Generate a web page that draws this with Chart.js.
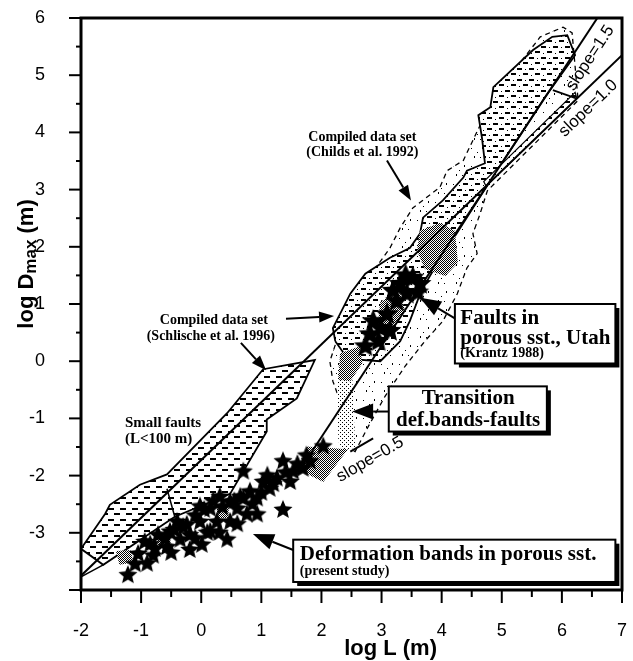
<!DOCTYPE html>
<html>
<head>
<meta charset="utf-8">
<title>log Dmax vs log L</title>
<script src="https://cdn.jsdelivr.net/npm/chart.js@4/dist/chart.umd.min.js"></script>
<style>
  html, body { margin: 0; padding: 0; background: #fff; }
  canvas { display: block; }
</style>
</head>
<body>
<canvas id="c" width="633" height="661"></canvas>
<script>
// ---------- axis ticks ----------
const xTicks = [-2, -1, 0, 1, 2, 3, 4, 5, 6, 7];
const yTicks = [-3, -2, -1, 0, 1, 2, 3, 4, 5, 6];

// ---------- envelopes: log L (x) and log Dmax (y) vertices ----------
// Small faults, compiled data set (Schlische et al. 1996)
const schlischeL = [-2.00, -1.60, -1.52, -1.02, -0.57, 0.43, 1.03, 1.89, 1.59, 1.09, 1.09, 0.48, -0.44, -1.63, -2.00];
const schlischeD = [-3.28, -2.67, -2.51, -2.16, -1.98, -0.91, -0.14, 0.02, -0.65, -1.02, -1.23, -2.32, -2.72, -3.56, -3.28];

// Compiled data set (Childs et al. 1992), solid outline
const childsL = [2.23, 2.19, 2.48, 2.73, 3.14, 3.47, 3.64, 3.69, 4.02, 4.36, 4.42, 4.72, 4.67, 4.61, 4.81, 4.86, 5.52, 5.84, 6.09, 6.22, 5.71, 4.74, 4.26, 4.00, 3.66, 3.47, 3.31, 2.98, 2.44, 2.23];
const childsD = [0.35, 0.58, 1.18, 1.53, 1.81, 1.98, 2.23, 2.51, 2.81, 3.21, 3.33, 3.46, 3.91, 4.30, 4.44, 4.79, 5.44, 5.67, 5.70, 5.35, 4.60, 3.04, 2.25, 1.84, 1.23, 0.70, 0.35, 0.00, 0.04, 0.35];

// narrow strip of the same data set along the slope=1.0 line
const childsStripL = [4.74, 6.25, 6.22, 4.70, 4.74];
const childsStripD = [3.06, 4.59, 4.70, 3.14, 3.06];

// outer dashed limit of the Childs et al. data
const childsHullL = [2.36, 2.31, 2.19, 2.14, 2.39, 2.64, 2.89, 3.14, 3.31, 3.52, 3.97, 4.09, 4.36, 4.76, 5.19, 5.30, 5.64, 6.02, 6.17, 6.27, 4.76, 4.64, 4.52, 4.59, 4.42, 4.26, 4.02, 3.72, 3.39, 3.06, 2.78, 2.56, 2.36];
const childsHullD = [-1.49, -0.70, -0.35, 0.00, 0.79, 1.23, 1.61, 1.98, 2.33, 2.68, 3.04, 3.33, 3.51, 4.39, 4.91, 5.21, 5.67, 5.84, 5.74, 4.56, 2.98, 2.58, 2.23, 1.88, 1.63, 1.18, 0.70, 0.35, -0.09, -0.61, -1.14, -1.58, -1.49];

// stippled transition zones (def. bands -> faults)
const zoneA_L = [3.64, 3.97, 4.22, 4.27, 4.06, 3.72, 3.59, 3.64];
const zoneA_D = [2.28, 2.42, 2.28, 1.72, 1.49, 1.61, 1.93, 2.28];
const zoneB_L = [2.98, 3.31, 3.39, 3.14, 2.94, 2.98];
const zoneB_D = [1.05, 1.19, 0.88, 0.53, 0.67, 1.05];
const zoneC_L = [2.31, 2.64, 2.68, 2.48, 2.28, 2.31];
const zoneC_D = [0.14, 0.26, -0.04, -0.35, -0.32, 0.14];
const zoneD_L = [1.76, 2.44, 2.03, 1.68, 1.76];
const zoneD_D = [-1.49, -1.54, -2.11, -1.93, -1.49];
const zoneE_L = [-1.42, -1.18, -1.12, -1.36, -1.42];
const zoneE_D = [-3.32, -3.30, -3.52, -3.56, -3.32];
const zoneF_L = [-0.74, -0.52, -0.50, -0.72, -0.74];
const zoneF_D = [-3.10, -3.08, -3.26, -3.28, -3.10];
const zoneG_L = [0.26, 0.46, 0.45, 0.25, 0.26];
const zoneG_D = [-2.58, -2.56, -2.74, -2.76, -2.58];
const zoneH_L = [0.98, 1.22, 1.24, 1.00, 0.98];
const zoneH_D = [-2.02, -2.00, -2.16, -2.18, -2.02];
const bridgeL = [2.26, 2.51, 2.56, 2.39, 2.28, 2.26];
const bridgeD = [-0.09, -0.18, -1.49, -1.61, -1.40, -0.09];

// reference lines
const slope10L = [-2.00, 7.00];
const slope10D = [-3.75, 5.35];
const slope15L = [1.59, 6.59];
const slope15D = [-1.98, 6.00];
const slope05L = [2.48, 2.86];
const slope05D = [-1.58, -1.35];
const capL = [5.85, 6.25];
const capD = [4.74, 4.59];
const edgeL = [-2.00, -1.63];
const edgeD = [-3.77, -3.56];
const notchL = [-0.57, -0.44];
const notchD = [-2.23, -2.72];

// deformation bands in porous sandstone (present study)
const bandsL = [-1.22, -1.05, -0.90, -0.77, -0.72, -0.52, -0.35, -0.19, 0.01, 0.43, -0.24, -0.02, 0.15, 0.26, 0.48, 0.60, 0.76, 0.70, 0.93, 1.14,
                1.36, 1.36, 1.26, 1.53, 1.69, 2.03, 0.48, 0.81, 1.03, 0.15, -0.19, -0.40, 0.93, -0.57, -0.94, 0.31, 0.65, -0.02, 1.48, 1.81,
                -0.85, -0.60, -0.45, -0.30, -0.10, 0.05, 0.20, 0.35, 0.55, 0.70, 0.85, 1.00, 1.10, 1.20, 1.40, 1.60, 1.75, 0.10, 0.30, 0.60,
                -0.10, -0.50, -1.10, -0.80];
const bandsD = [-3.74, -3.37, -3.54, -3.28, -3.04, -2.98, -3.12, -3.30, -3.21, -3.12, -2.86, -2.81, -2.58, -2.81, -2.81, -2.58, -2.68, -1.93, -2.40, -2.23,
                -2.60, -1.75, -2.05, -1.93, -1.88, -1.49, -2.46, -2.28, -2.11, -2.98, -3.04, -2.81, -2.68, -3.25, -3.16, -2.37, -2.37, -2.54, -2.11, -1.75,
                -3.20, -3.10, -2.95, -2.90, -2.70, -2.60, -2.45, -2.55, -2.45, -2.40, -2.50, -2.30, -2.00, -2.15, -1.95, -1.80, -1.65, -3.00, -3.00, -2.85,
                -3.10, -3.35, -3.55, -3.40];

// faults in porous sandstone, Utah (Krantz 1988)
const krantzL = [2.81, 2.73, 2.98, 3.14, 3.31, 3.52, 3.42, 3.19, 3.64, 2.86, 3.09, 3.40, 3.60, 3.25, 2.95];
const krantzD = [0.47, 0.26, 0.58, 0.53, 1.35, 1.46, 1.18, 1.23, 1.35, 0.70, 0.82, 1.50, 1.20, 1.05, 0.35];

// ---------- fonts ----------
const SANS = '"Liberation Sans", Arial, Helvetica, sans-serif';
const SERIF = '"Liberation Serif", "Times New Roman", Times, serif';

// ---------- fill patterns ----------
const baseCtx = document.getElementById('c').getContext('2d');
function pattern(w, h, paint) {
  const c = document.createElement('canvas');
  c.width = w; c.height = h;
  const g = c.getContext('2d');
  g.fillStyle = '#fff';
  g.fillRect(0, 0, w, h);
  g.fillStyle = '#000';
  paint(g);
  return baseCtx.createPattern(c, 'repeat');
}
const dashHatch = pattern(12, 11, g => { g.fillRect(0, 2, 6, 2); g.fillRect(6, 7, 6, 2); });
const childsHatch = pattern(12, 11, g => {
  g.fillRect(1, 2, 5, 2); g.fillRect(7, 7, 5, 2);
  g.fillRect(9, 3, 1, 1); g.fillRect(3, 9, 1, 1);
});
const sparseDots = pattern(18, 18, g => {
  g.fillRect(3, 4, 1, 1); g.fillRect(12, 13, 1, 1); g.fillRect(14, 3, 1, 2);
  g.fillRect(6, 12, 1, 2); g.fillRect(9, 8, 1, 1);
});
const stipple = pattern(2, 2, g => { g.fillRect(0, 0, 1, 1); g.fillRect(1, 1, 1, 1); });
const lightStipple = pattern(4, 4, g => { g.fillRect(0, 0, 1, 1); g.fillRect(2, 2, 1, 1); });

// ---------- star marker ----------
function starMarker(r) {
  const s = Math.ceil(2 * r + 2);
  const c = document.createElement('canvas');
  c.width = s; c.height = s;
  const g = c.getContext('2d');
  g.translate(s / 2, s / 2);
  g.beginPath();
  for (let i = 0; i < 10; i++) {
    const rr = i % 2 ? r * 0.45 : r;
    const a = -Math.PI / 2 + i * Math.PI / 5;
    g.lineTo(rr * Math.cos(a), rr * Math.sin(a));
  }
  g.closePath();
  g.fillStyle = '#000';
  g.fill();
  return c;
}

// ---------- dataset helpers ----------
const pts = (xs, ys) => xs.map((x, i) => ({ x, y: ys[i] }));
const area = (xs, ys, bg, border, order, extra) => Object.assign({
  data: pts(xs, ys), showLine: true, fill: 'shape', backgroundColor: bg,
  borderColor: border, borderWidth: 1.8, pointRadius: 0, tension: 0, order
}, extra || {});
const line = (xs, ys, w) => ({
  data: pts(xs, ys), showLine: true, fill: false, borderColor: '#000',
  borderWidth: w, pointRadius: 0, tension: 0, order: 1
});
const noEdge = 'rgba(0,0,0,0)';

const datasets = [
  { data: pts(krantzL, krantzD), showLine: false, pointStyle: starMarker(12), pointRadius: 10, order: 0 },
  { data: pts(bandsL, bandsD), showLine: false, pointStyle: starMarker(10), pointRadius: 9, order: 0 },
  line(slope10L, slope10D, 2),
  line(slope15L, slope15D, 2),
  line(slope05L, slope05D, 2),
  line(capL, capD, 1.8),
  line(edgeL, edgeD, 1.5),
  line(notchL, notchD, 1.5),
  area(zoneA_L, zoneA_D, stipple, noEdge, 2),
  area(zoneB_L, zoneB_D, stipple, noEdge, 2),
  area(zoneC_L, zoneC_D, stipple, noEdge, 2),
  area(zoneD_L, zoneD_D, stipple, noEdge, 2),
  area(zoneE_L, zoneE_D, stipple, noEdge, 2),
  area(zoneF_L, zoneF_D, stipple, noEdge, 2),
  area(zoneG_L, zoneG_D, stipple, noEdge, 2),
  area(zoneH_L, zoneH_D, stipple, noEdge, 2),
  area(bridgeL, bridgeD, lightStipple, noEdge, 3),
  area(schlischeL, schlischeD, dashHatch, '#000', 4),
  area(childsStripL, childsStripD, childsHatch, '#000', 4, { borderWidth: 1.2 }),
  area(childsL, childsD, childsHatch, '#000', 4),
  area(childsHullL, childsHullD, sparseDots, '#000', 5, { borderWidth: 1.3, borderDash: [5, 4] })
];

// ---------- annotations (anchored in data coordinates) ----------
const slopeNotes = [
  { text: 'slope=1.5', L: 6.47, D: 5.30, alongL: slope15L, alongD: slope15D },
  { text: 'slope=1.0', L: 6.44, D: 4.42, alongL: slope10L, alongD: slope10D },
  { text: 'slope=0.5', L: 2.81, D: -1.72, alongL: slope05L, alongD: slope05D }
];
const notes = [
  { text: 'Compiled data set', L: 0.21, D: 0.72, size: 14, align: 'center' },
  { text: '(Schlische et al. 1996)', L: 0.16, D: 0.44, size: 14, align: 'center' },
  { text: 'Compiled data set', L: 2.68, D: 3.91, size: 14, align: 'center' },
  { text: '(Childs et al. 1992)', L: 2.68, D: 3.65, size: 14, align: 'center' },
  { text: 'Small faults', L: -1.27, D: -1.09, size: 15, align: 'left' },
  { text: '(L<100 m)', L: -1.27, D: -1.37, size: 15, align: 'left' }
];
const boxes = [
  { L1: 4.22, D1: 1.00, L2: 6.89, D2: -0.04, lines: [
    { text: 'Faults in', L: 4.31, D: 0.75, size: 21, align: 'left' },
    { text: 'porous sst., Utah', L: 4.31, D: 0.39, size: 21, align: 'left' },
    { text: '(Krantz 1988)', L: 4.31, D: 0.13, size: 14, align: 'left' }
  ] },
  { L1: 3.12, D1: -0.44, L2: 5.75, D2: -1.23, lines: [
    { text: 'Transition', L: 4.44, D: -0.66, size: 21, align: 'center' },
    { text: 'def.bands-faults', L: 4.44, D: -1.03, size: 21, align: 'center' }
  ] },
  { L1: 1.53, D1: -3.12, L2: 6.89, D2: -3.86, lines: [
    { text: 'Deformation bands in porous sst.', L: 1.64, D: -3.38, size: 21, align: 'left' },
    { text: '(present study)', L: 1.64, D: -3.67, size: 14, align: 'left' }
  ] }
];
const arrows = [
  { from: [1.41, 0.74], to: [2.21, 0.79], len: 15, half: 5.5 },
  { from: [0.66, 0.32], to: [1.08, -0.16], len: 15, half: 5.5 },
  { from: [3.09, 3.51], to: [3.49, 2.81], len: 15, half: 5.5 },
  { from: [4.22, 0.75], to: [3.64, 1.11], len: 21, half: 8 },
  { from: [3.12, -0.88], to: [2.51, -0.88], len: 21, half: 8 },
  { from: [1.53, -3.30], to: [0.86, -3.02], len: 21, half: 8 }
];

function drawArrow(ctx, x1, y1, x2, y2, len, half) {
  const a = Math.atan2(y2 - y1, x2 - x1);
  const bx = x2 - len * Math.cos(a), by = y2 - len * Math.sin(a);
  ctx.beginPath();
  ctx.moveTo(x1, y1);
  ctx.lineTo(bx, by);
  ctx.lineWidth = 2;
  ctx.stroke();
  ctx.beginPath();
  ctx.moveTo(x2, y2);
  ctx.lineTo(bx + half * Math.sin(a), by - half * Math.cos(a));
  ctx.lineTo(bx - half * Math.sin(a), by + half * Math.cos(a));
  ctx.closePath();
  ctx.fill();
}

const decor = {
  id: 'decor',
  afterDatasetsDraw(chart) {
    const { ctx, scales: { x, y } } = chart;
    const px = v => x.getPixelForValue(v);
    const py = v => y.getPixelForValue(v);
    ctx.save();
    ctx.fillStyle = '#000';
    ctx.strokeStyle = '#000';

    // labels along the reference lines
    ctx.font = '17px ' + SANS;
    ctx.textAlign = 'center';
    ctx.textBaseline = 'middle';
    slopeNotes.forEach(n => {
      const ang = Math.atan2(py(n.alongD[1]) - py(n.alongD[0]), px(n.alongL[1]) - px(n.alongL[0]));
      ctx.save();
      ctx.translate(px(n.L), py(n.D));
      ctx.rotate(ang);
      ctx.fillText(n.text, 0, 0);
      ctx.restore();
    });

    // free text
    notes.forEach(n => {
      ctx.font = 'bold ' + n.size + 'px ' + SERIF;
      ctx.textAlign = n.align;
      ctx.fillText(n.text, px(n.L), py(n.D));
    });

    // arrows
    arrows.forEach(a => drawArrow(ctx, px(a.from[0]), py(a.from[1]), px(a.to[0]), py(a.to[1]), a.len, a.half));

    // framed legends with drop shadow
    boxes.forEach(b => {
      const x1 = px(b.L1), y1 = py(b.D1), x2 = px(b.L2), y2 = py(b.D2);
      ctx.fillStyle = '#000';
      ctx.fillRect(x1 + 4, y1 + 4, x2 - x1, y2 - y1);
      ctx.fillStyle = '#fff';
      ctx.fillRect(x1, y1, x2 - x1, y2 - y1);
      ctx.lineWidth = 2;
      ctx.strokeRect(x1, y1, x2 - x1, y2 - y1);
      ctx.fillStyle = '#000';
      b.lines.forEach(t => {
        ctx.font = 'bold ' + t.size + 'px ' + SERIF;
        ctx.textAlign = t.align;
        ctx.fillText(t.text, px(t.L), py(t.D));
      });
    });
    ctx.restore();
  },
  afterDraw(chart) {
    const { ctx, chartArea: a, scales: { x, y } } = chart;
    ctx.save();
    ctx.strokeStyle = '#000';
    ctx.fillStyle = '#000';

    // tick marks, major every unit, minor every half unit
    ctx.lineWidth = 2;
    for (let v = -2; v <= 7.001; v += 0.5) {
      const p = x.getPixelForValue(v);
      const major = Math.abs(v - Math.round(v)) < 1e-6;
      ctx.beginPath();
      ctx.moveTo(p, a.bottom);
      ctx.lineTo(p, a.bottom + (major ? 13 : 7));
      ctx.stroke();
    }
    for (let v = -4; v <= 6.001; v += 0.5) {
      const p = y.getPixelForValue(v);
      const major = Math.abs(v - Math.round(v)) < 1e-6;
      ctx.beginPath();
      ctx.moveTo(a.left, p);
      ctx.lineTo(a.left - (major ? 12 : 5), p);
      ctx.stroke();
    }

    // plot frame
    ctx.lineWidth = 3;
    ctx.strokeRect(a.left, a.top, a.right - a.left, a.bottom - a.top);

    // axis titles
    ctx.textBaseline = 'middle';
    ctx.textAlign = 'center';
    ctx.font = 'bold 22px ' + SANS;
    ctx.fillText('log L (m)', x.getPixelForValue(3.15), 649);

    ctx.translate(27, y.getPixelForValue(1.70));
    ctx.rotate(-Math.PI / 2);
    const big = 'bold 22px ' + SANS, small = 'bold 17px ' + SANS;
    ctx.font = big;
    const w1 = ctx.measureText('log D').width;
    const w3 = ctx.measureText(' (m)').width;
    ctx.font = small;
    const w2 = ctx.measureText('max').width;
    let cx = -(w1 + w2 + w3) / 2;
    ctx.textAlign = 'left';
    ctx.font = big;
    ctx.fillText('log D', cx, 0);
    cx += w1;
    ctx.font = small;
    ctx.fillText('max', cx, 4);
    cx += w2;
    ctx.font = big;
    ctx.fillText(' (m)', cx, 0);
    ctx.restore();
  }
};

new Chart(document.getElementById('c'), {
  type: 'scatter',
  data: { datasets },
  options: {
    responsive: false,
    animation: false,
    events: [],
    layout: { autoPadding: false, padding: { left: 0, right: 11, top: 18, bottom: 0 } },
    plugins: { legend: { display: false }, tooltip: { enabled: false } },
    scales: {
      x: {
        type: 'linear', min: -2, max: 7,
        grid: { display: false }, border: { display: false },
        afterBuildTicks: s => { s.ticks = xTicks.map(v => ({ value: v })); },
        afterFit: s => { s.height = 71; s.paddingLeft = 0; s.paddingRight = 0; },
        ticks: { padding: 22, color: '#000', maxRotation: 0, autoSkip: false,
                 font: { family: SANS, size: 18 }, callback: v => String(v) }
      },
      y: {
        type: 'linear', min: -4, max: 6,
        grid: { display: false }, border: { display: false },
        afterBuildTicks: s => { s.ticks = yTicks.map(v => ({ value: v })); },
        afterFit: s => { s.width = 81; s.paddingTop = 0; s.paddingBottom = 0; },
        ticks: { padding: 28, color: '#000', autoSkip: false,
                 font: { family: SANS, size: 18 }, callback: v => String(v) }
      }
    }
  },
  plugins: [decor]
});
</script>
</body>
</html>
